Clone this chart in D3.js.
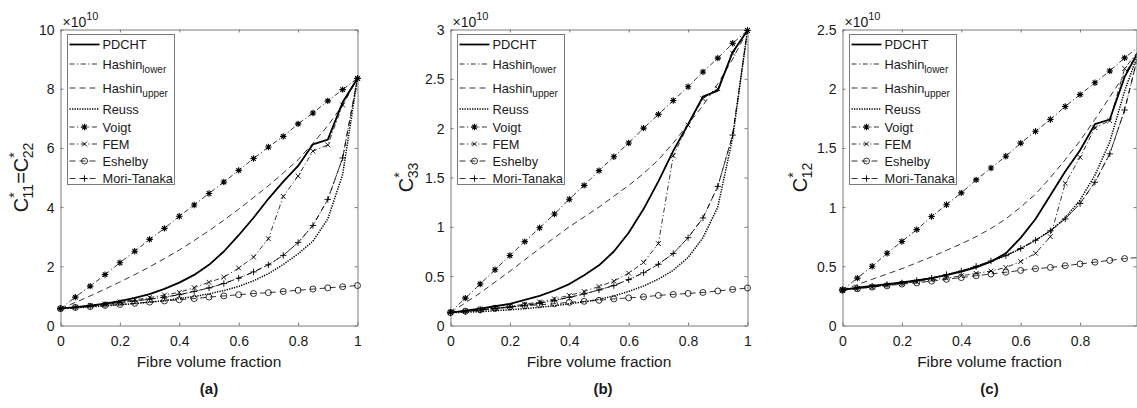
<!DOCTYPE html>
<html><head><meta charset="utf-8">
<script src="https://cdn.jsdelivr.net/npm/d3@7"></script>
<style>body{margin:0;background:#fff}svg{display:block;font-family:"Liberation Sans",Arial,Helvetica,sans-serif}</style>
</head><body><svg id="chart" width="1137" height="408"></svg>
<script>
// ---------- data (values in units of 1e10) ----------
const fraction = [0,0.05,0.1,0.15,0.2,0.25,0.3,0.35,0.4,0.45,0.5,0.55,0.6,0.65,0.7,0.75,0.8,0.85,0.9,0.95,1];
const legendLabels = ["PDCHT","Hashin|lower","Hashin|upper","Reuss","Voigt","FEM","Eshelby","Mori-Tanaka"];
const panelLabels = ["(a)","(b)","(c)"];
const xTickValues = [0,0.2,0.4,0.6,0.8,1];
const xTickLabels = ["0","0.2","0.4","0.6","0.8","1"];
const yTicksA = [0,2,4,6,8,10];
const yTickLabelsA = ["0","2","4","6","8","10"];
const yTicksB = [0,0.5,1,1.5,2,2.5,3];
const yTickLabelsB = ["0","0.5","1","1.5","2","2.5","3"];
const yTicksC = [0,0.5,1,1.5,2,2.5];
const yTickLabelsC = ["0","0.5","1","1.5","2","2.5"];
const xLabel = "Fibre volume fraction";
const exponentLabel = "10";

// panel (a) C11 = C22
const pdchtA       = [0.57,0.62,0.67,0.74,0.82,0.93,1.06,1.24,1.45,1.71,2.05,2.50,3.05,3.64,4.28,4.86,5.39,6.12,6.28,7.54,8.35];
const hashinLowerA = [0.57,0.61,0.66,0.71,0.77,0.83,0.89,0.96,1.04,1.15,1.27,1.42,1.60,1.81,2.05,2.37,2.80,3.38,4.26,5.66,8.35];
const hashinUpperA = [0.57,0.78,1.00,1.23,1.47,1.72,1.98,2.26,2.55,2.87,3.20,3.56,3.93,4.32,4.72,5.15,5.60,6.15,6.75,7.45,8.35];
const reussA       = [0.57,0.60,0.63,0.66,0.70,0.74,0.79,0.84,0.91,0.98,1.07,1.18,1.32,1.51,1.75,2.06,2.42,2.85,3.60,5.10,8.35];
const voigtA       = [0.57,0.96,1.33,1.72,2.12,2.51,2.91,3.28,3.69,4.07,4.46,4.85,5.24,5.64,6.03,6.39,6.81,7.18,7.59,7.97,8.35];
const femA         = [0.57,0.62,0.68,0.73,0.80,0.87,0.94,1.03,1.12,1.28,1.46,1.63,1.94,2.31,2.93,4.36,5.05,5.89,6.10,7.45,8.35];
const eshelbyA     = [0.57,0.61,0.64,0.68,0.71,0.75,0.79,0.83,0.87,0.91,0.96,1.00,1.04,1.08,1.11,1.15,1.19,1.23,1.27,1.31,1.35];
const moriTanakaA  = [0.57,0.61,0.66,0.71,0.77,0.83,0.89,0.96,1.04,1.15,1.27,1.42,1.60,1.81,2.05,2.37,2.80,3.38,4.26,5.66,8.35];

// panel (b) C33
const pdchtB       = [0.13,0.15,0.17,0.195,0.22,0.26,0.30,0.355,0.42,0.51,0.61,0.75,0.94,1.18,1.46,1.77,2.04,2.32,2.38,2.77,2.99];
const hashinLowerB = [0.13,0.14,0.155,0.17,0.185,0.205,0.225,0.255,0.285,0.32,0.36,0.405,0.465,0.535,0.62,0.73,0.89,1.09,1.41,1.93,2.99];
const hashinUpperB = [0.13,0.23,0.33,0.44,0.55,0.665,0.78,0.89,1.00,1.10,1.20,1.31,1.42,1.54,1.68,1.85,2.04,2.23,2.45,2.70,2.99];
const reussB       = [0.13,0.135,0.14,0.15,0.16,0.17,0.185,0.20,0.22,0.24,0.265,0.30,0.345,0.40,0.47,0.56,0.69,0.89,1.20,1.90,2.99];
const voigtB       = [0.135,0.277,0.42,0.565,0.71,0.85,0.99,1.13,1.28,1.42,1.57,1.71,1.85,2.00,2.14,2.28,2.42,2.57,2.71,2.86,2.99];
const femB         = [0.13,0.145,0.16,0.175,0.195,0.215,0.24,0.27,0.305,0.345,0.395,0.45,0.53,0.64,0.83,1.72,2.03,2.30,2.40,2.76,2.99];
const eshelbyB     = [0.13,0.145,0.16,0.175,0.19,0.20,0.21,0.22,0.235,0.245,0.255,0.27,0.28,0.29,0.305,0.315,0.325,0.335,0.35,0.365,0.38];
const moriTanakaB  = [0.13,0.14,0.155,0.17,0.185,0.205,0.225,0.255,0.285,0.32,0.36,0.405,0.465,0.535,0.62,0.73,0.89,1.09,1.41,1.93,2.99];

// panel (c) C12
const pdchtC       = [0.30,0.32,0.335,0.35,0.365,0.38,0.40,0.425,0.455,0.49,0.54,0.61,0.74,0.90,1.10,1.30,1.48,1.70,1.74,2.10,2.33];
const hashinLowerC = [0.30,0.315,0.33,0.345,0.36,0.38,0.40,0.43,0.46,0.50,0.545,0.59,0.65,0.72,0.80,0.90,1.03,1.21,1.45,1.82,2.33];
const hashinUpperC = [0.30,0.345,0.39,0.435,0.48,0.53,0.58,0.635,0.69,0.75,0.82,0.90,1.00,1.11,1.25,1.40,1.56,1.74,1.93,2.12,2.33];
const reussC       = [0.30,0.315,0.33,0.345,0.36,0.38,0.40,0.43,0.46,0.50,0.54,0.59,0.65,0.72,0.80,0.91,1.06,1.27,1.55,1.98,2.33];
const voigtC       = [0.30,0.40,0.50,0.61,0.71,0.81,0.92,1.02,1.12,1.23,1.33,1.43,1.54,1.64,1.74,1.85,1.95,2.05,2.15,2.26,2.36];
const femC         = [0.30,0.31,0.325,0.34,0.355,0.37,0.385,0.40,0.42,0.44,0.46,0.49,0.54,0.61,0.75,1.20,1.42,1.67,1.73,2.17,2.33];
const eshelbyC     = [0.30,0.31,0.325,0.335,0.35,0.36,0.375,0.39,0.405,0.42,0.435,0.45,0.465,0.48,0.49,0.505,0.52,0.535,0.55,0.565,0.575];
const moriTanakaC  = [0.30,0.315,0.33,0.345,0.36,0.38,0.40,0.43,0.46,0.50,0.545,0.59,0.65,0.72,0.80,0.90,1.03,1.21,1.45,1.82,2.33];

// ---------- styles ----------
const DASHDOT = "5,2.5,1.2,2.5", DASHED = "6,4";
const styles = [
  {dash:null,   w:1.8, marker:null},
  {dash:DASHDOT,w:0.8, marker:null},
  {dash:DASHED, w:0.8, marker:null},
  {dash:"1.3,1.2", w:1.5, marker:null},
  {dash:DASHDOT,w:0.8, marker:"*"},
  {dash:DASHDOT,w:0.8, marker:"x"},
  {dash:DASHED, w:0.8, marker:"o"},
  {dash:DASHED, w:0.8, marker:"+"}
];
const AX = "#7a7a7a", TXT = "#1a1a1a";

const panels = [
  {left:60.5, right:357.5, xMax:1, yMax:10, yTicks:yTicksA, yLabels:yTickLabelsA, ylabOff:33,
   ylab:["C","*","11","=","C","*","22"], series:[pdchtA,hashinLowerA,hashinUpperA,reussA,voigtA,femA,eshelbyA,moriTanakaA]},
  {left:450.5, right:747.5, xMax:1, yMax:3, yTicks:yTicksB, yLabels:yTickLabelsB, ylabOff:38,
   ylab:["C","*","33"], series:[pdchtB,hashinLowerB,hashinUpperB,reussB,voigtB,femB,eshelbyB,moriTanakaB]},
  {left:842.5, right:1136.5, xMax:0.99, yMax:2.5, yTicks:yTicksC, yLabels:yTickLabelsC, ylabOff:36,
   ylab:["C","*","12"], series:[pdchtC,hashinLowerC,hashinUpperC,reussC,voigtC,femC,eshelbyC,moriTanakaC]}
];
const TOP = 29.5, BOTTOM = 325.5;

const svg = d3.select("#chart");

function marker(g, type, x, y) {
  let d = "";
  if (type === "*") {
    const r = 3.2, s = r * 0.72;
    d = `M${x-r},${y}L${x+r},${y}M${x},${y-r}L${x},${y+r}M${x-s},${y-s}L${x+s},${y+s}M${x-s},${y+s}L${x+s},${y-s}`;
    g.append("path").attr("d", d).attr("stroke", "#000").attr("stroke-width", 1.1).attr("fill", "none");
  } else if (type === "x") {
    const r = 2.4;
    d = `M${x-r},${y-r}L${x+r},${y+r}M${x-r},${y+r}L${x+r},${y-r}`;
    g.append("path").attr("d", d).attr("stroke", "#000").attr("stroke-width", 0.9).attr("fill", "none");
  } else if (type === "+") {
    const r = 3.2;
    d = `M${x-r},${y}L${x+r},${y}M${x},${y-r}L${x},${y+r}`;
    g.append("path").attr("d", d).attr("stroke", "#000").attr("stroke-width", 0.9).attr("fill", "none");
  } else if (type === "o") {
    g.append("circle").attr("cx", x).attr("cy", y).attr("r", 3).attr("stroke", "#000").attr("stroke-width", 0.8).attr("fill", "none");
  }
}

panels.forEach((p, pi) => {
  const w = p.right - p.left, h = BOTTOM - TOP;
  const x = d3.scaleLinear().domain([0, p.xMax]).range([0, w]);
  const y = d3.scaleLinear().domain([0, p.yMax]).range([h, 0]);
  const g = svg.append("g").attr("transform", `translate(${p.left},${TOP})`);

  const clipId = "clip" + pi;
  g.append("clipPath").attr("id", clipId).append("rect").attr("x", 0).attr("y", -2).attr("width", w).attr("height", h + 2);

  // axes
  const xt = xTickValues.filter(v => v <= p.xMax + 1e-9);
  const xAxis = d3.axisBottom(x).tickValues(xt).tickSize(-3).tickSizeOuter(0).tickPadding(11)
      .tickFormat(v => xTickLabels[xTickValues.indexOf(v)]);
  const yAxis = d3.axisLeft(y).tickValues(p.yTicks).tickSize(-3).tickSizeOuter(0).tickPadding(6)
      .tickFormat(v => p.yLabels[p.yTicks.indexOf(v)]);
  const gx = g.append("g").attr("transform", `translate(0,${h})`).call(xAxis);
  const gy = g.append("g").call(yAxis);
  const gxt = g.append("g").call(d3.axisTop(x).tickValues(xt).tickSize(-3).tickSizeOuter(0).tickFormat(""));
  const gyr = g.append("g").attr("transform", `translate(${w},0)`).call(d3.axisRight(y).tickValues(p.yTicks).tickSize(-3).tickSizeOuter(0).tickFormat(""));
  [gx, gy, gxt, gyr].forEach(a => {
    a.select(".domain").attr("stroke", AX).attr("stroke-width", 1);
    a.selectAll(".tick line").attr("stroke", AX).attr("stroke-width", 1);
    a.selectAll(".tick text").attr("fill", TXT).attr("font-size", 14).attr("font-family", '"Liberation Sans",Arial,sans-serif');
  });
  gy.selectAll(".tick text").attr("dy", "0.35em");

  // series
  const plot = g.append("g").attr("clip-path", `url(#${clipId})`);
  const line = d3.line().x((d, i) => x(fraction[i])).y(d => y(d));
  p.series.forEach((vals, si) => {
    const st = styles[si];
    plot.append("path").datum(vals).attr("d", line)
      .attr("fill", "none").attr("stroke", "#000").attr("stroke-width", st.w)
      .attr("stroke-dasharray", st.dash).attr("stroke-linejoin", "round");
  });
  const mk = g.append("g");
  p.series.forEach((vals, si) => {
    const st = styles[si];
    if (!st.marker) return;
    vals.forEach((v, i) => { if (fraction[i] <= p.xMax + 1e-9) marker(mk, st.marker, x(fraction[i]), y(v)); });
  });

  // legend
  const lx = 7, ly = 5, lw = 107, lh = 150;
  const lg = g.append("g").attr("transform", `translate(${lx},${ly})`);
  lg.append("rect").attr("x", 0).attr("y", 0).attr("width", lw).attr("height", lh)
    .attr("fill", "#fff").attr("stroke", AX).attr("stroke-width", 1);
  const rowY = [10, 29.5, 53.5, 74.5, 92.5, 109.5, 126.5, 144];
  legendLabels.forEach((lab, si) => {
    const st = styles[si], ry = rowY[si];
    lg.append("line").attr("x1", 2).attr("x2", 32).attr("y1", ry).attr("y2", ry)
      .attr("stroke", "#000").attr("stroke-width", st.w).attr("stroke-dasharray", st.dash);
    if (st.marker) marker(lg, st.marker, 17, ry);
    const parts = lab.split("|");
    const t = lg.append("text").attr("x", 35).attr("y", ry + 4.5).attr("font-size", 12.8).attr("fill", TXT);
    t.append("tspan").text(parts[0]);
    if (parts[1]) t.append("tspan").attr("dy", 4.5).attr("font-size", 10).text(parts[1]);
  });

  // exponent label
  const ex = g.append("text").attr("x", 2).attr("y", -3).attr("font-size", 14).attr("fill", TXT);
  ex.append("tspan").text("\u00d710");
  ex.append("tspan").attr("dy", -7).attr("font-size", 11).text(exponentLabel);

  // x label
  g.append("text").attr("x", w / 2).attr("y", h + 41).attr("text-anchor", "middle")
    .attr("font-size", 15.5).attr("fill", TXT).text(xLabel);

  // y label
  const yl = g.append("text").attr("transform", `translate(${-p.ylabOff},${h / 2}) rotate(-90)`)
    .attr("text-anchor", "middle").attr("font-size", 20).attr("fill", TXT);
  const L = p.ylab;
  function cstar(sub, first) {
    yl.append("tspan").attr("font-size", 20).attr("dy", first ? 0 : 5).text("C");
    yl.append("tspan").attr("font-size", 14).attr("dy", -9).text("*");
    yl.append("tspan").attr("font-size", 14).attr("dx", -6).attr("dy", 14).text(sub);
  }
  if (L.length === 7) {
    cstar(L[2], true);
    yl.append("tspan").attr("font-size", 20).attr("dy", -5).text("=");
    yl.append("tspan").attr("font-size", 20).attr("dy", 0).text("C");
    yl.append("tspan").attr("font-size", 14).attr("dy", -9).text("*");
    yl.append("tspan").attr("font-size", 14).attr("dx", -6).attr("dy", 14).text(L[6]);
  } else {
    cstar(L[2], true);
  }

  // panel label
  g.append("text").attr("x", w / 2 + (pi === 1 ? 4 : 0)).attr("y", 364).attr("text-anchor", "middle")
    .attr("font-size", 15).attr("font-weight", "bold").attr("fill", TXT).text(panelLabels[pi]);
});
</script></body></html>
